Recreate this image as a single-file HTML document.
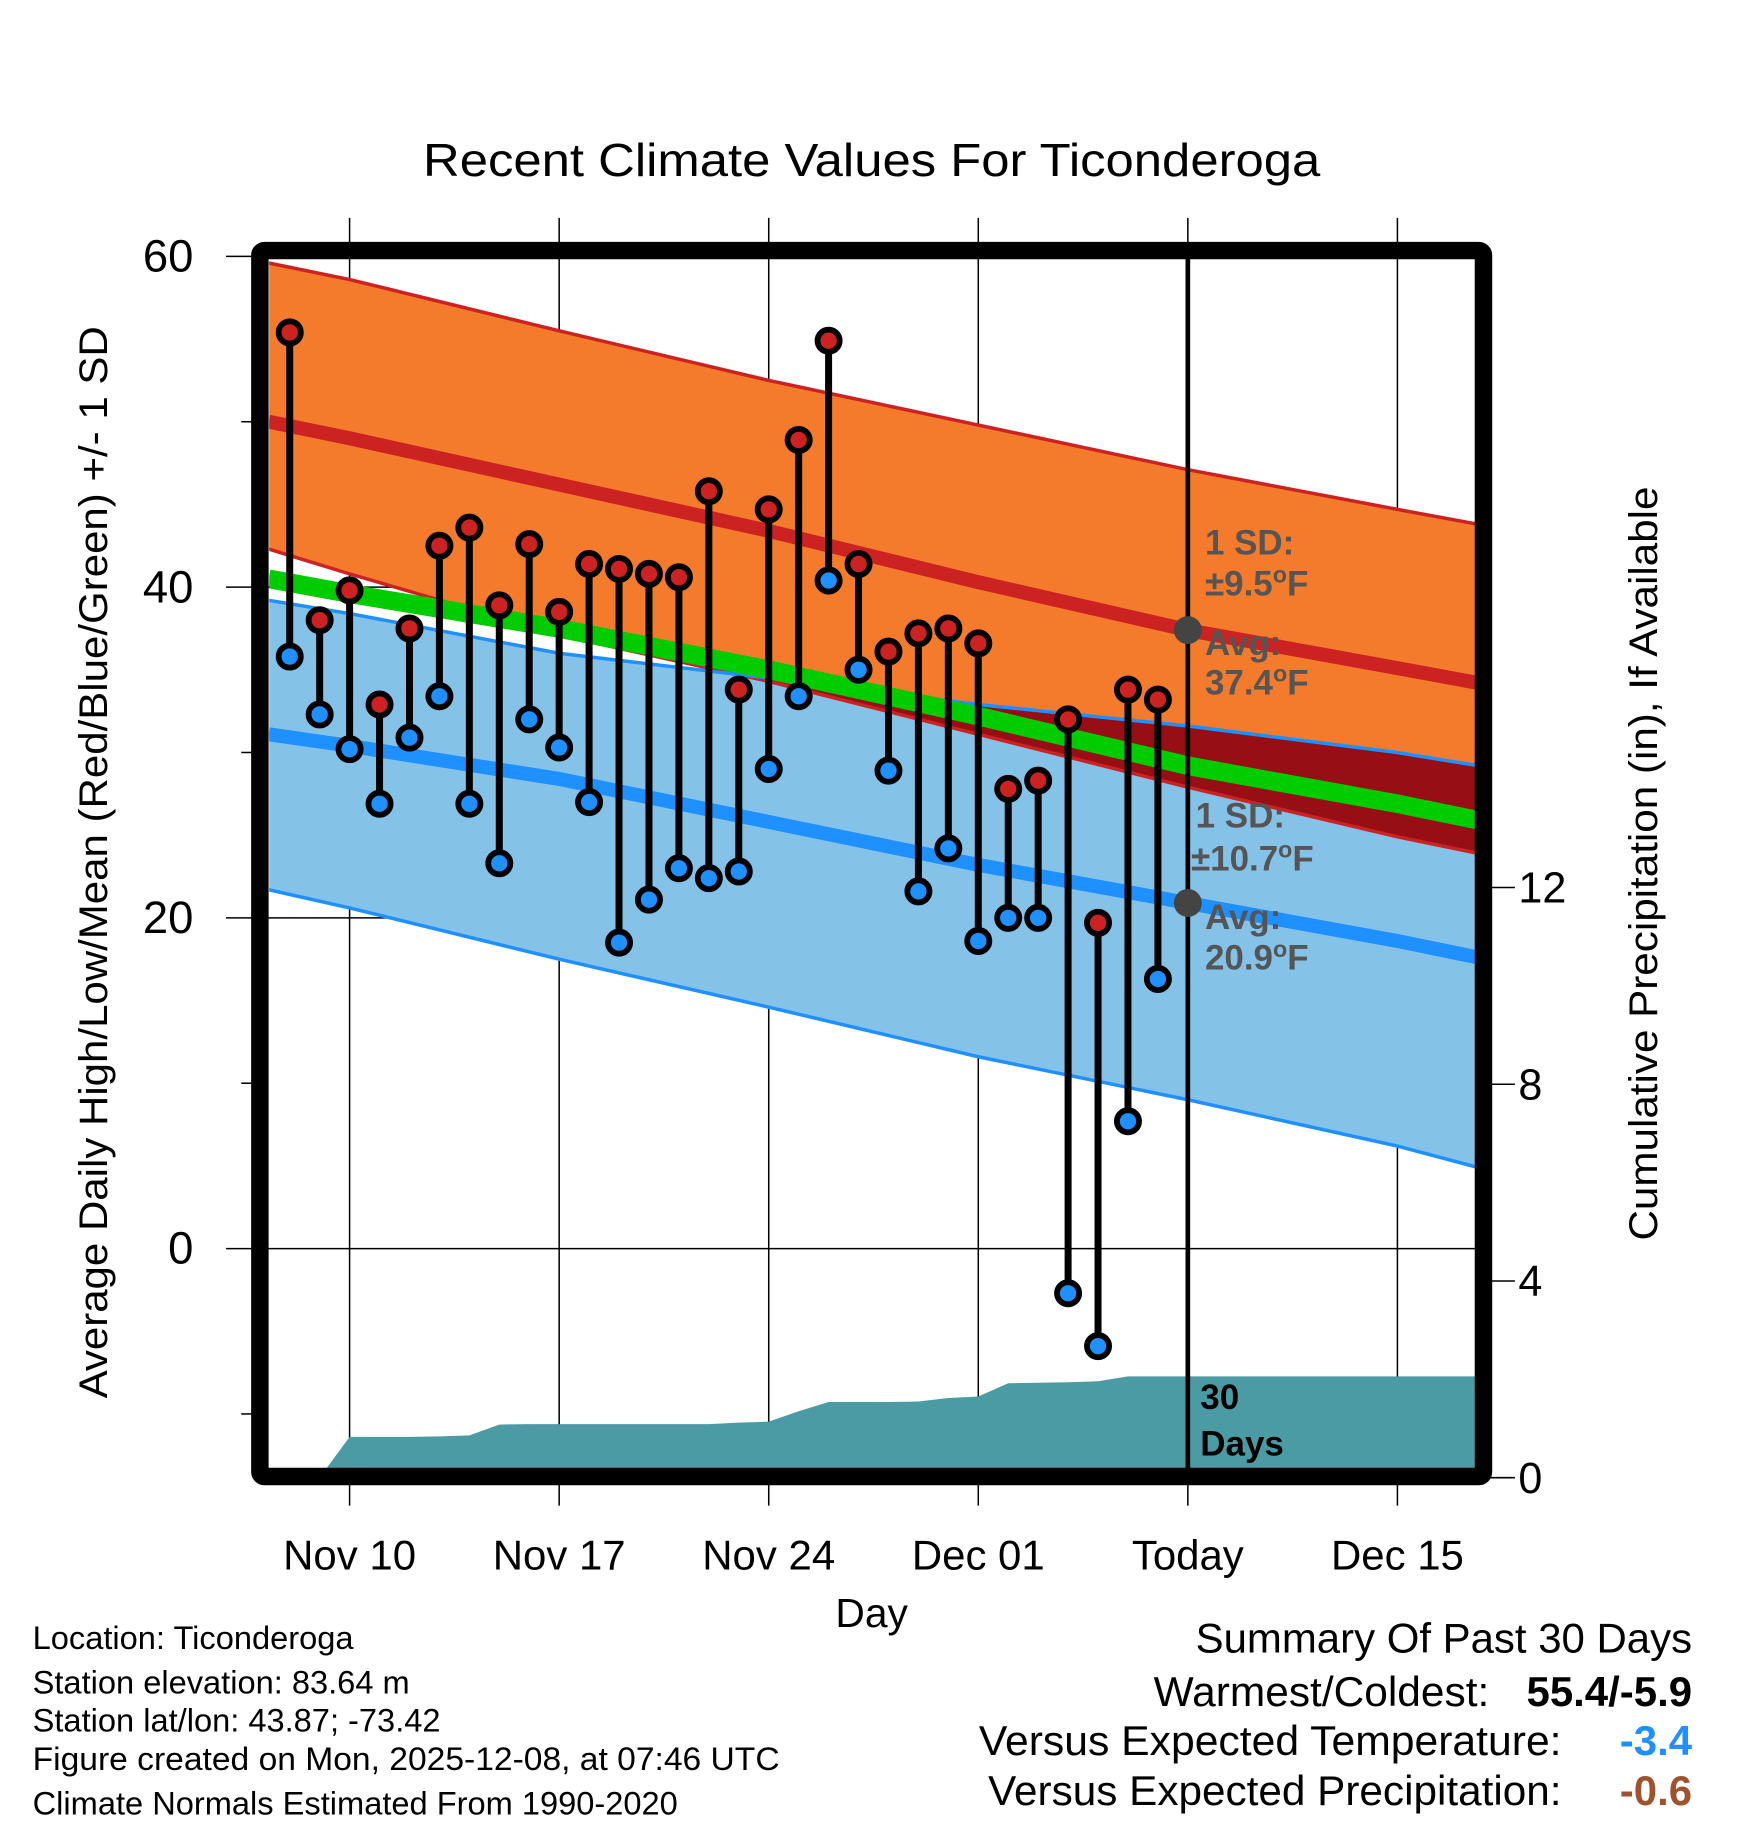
<!DOCTYPE html>
<html><head><meta charset="utf-8"><style>
html,body{margin:0;padding:0;background:#fff;}
svg{display:block;font-family:"Liberation Sans",Arial,sans-serif;}
</style></head><body>
<svg id="chart" width="1748" height="1828" viewBox="0 0 1500 1568.6" preserveAspectRatio="none" xmlns="http://www.w3.org/2000/svg">
<defs><clipPath id="pc"><rect x="231" y="224" width="1037" height="1036"/></clipPath></defs>
<rect x="0" y="0" width="1500" height="1568.6" fill="#fff"/>
<text x="748" y="151" font-size="40" text-anchor="middle" textLength="770" lengthAdjust="spacingAndGlyphs">Recent Climate Values For Ticonderoga</text>
<g id="grid"></g>
<g id="plot" clip-path="url(#pc)"></g>
<g id="marks"></g>
<rect x="223" y="215" width="1050" height="1052" rx="4" fill="none" stroke="#000" stroke-width="15"/>
<g id="axes"></g>
<text transform="translate(92,740) rotate(-90)" font-size="34" text-anchor="middle" textLength="920" lengthAdjust="spacingAndGlyphs">Average Daily High/Low/Mean (Red/Blue/Green) +/- 1 SD</text>
<text transform="translate(1422,741) rotate(-90)" font-size="34" text-anchor="middle" textLength="647" lengthAdjust="spacingAndGlyphs">Cumulative Precipitation (in), If Available</text>
<text x="748" y="1396" font-size="35" text-anchor="middle">Day</text>
<g font-size="28">
<text x="28" y="1415">Location: Ticonderoga</text>
<text x="28" y="1453">Station elevation: 83.64 m</text>
<text x="28" y="1486">Station lat/lon: 43.87; -73.42</text>
<text x="28" y="1519" textLength="641" lengthAdjust="spacingAndGlyphs">Figure created on Mon, 2025-12-08, at 07:46 UTC</text>
<text x="28" y="1557">Climate Normals Estimated From 1990-2020</text>
</g>
<g font-size="36" text-anchor="end">
<text x="1452" y="1418" textLength="426" lengthAdjust="spacingAndGlyphs">Summary Of Past 30 Days</text>
<text x="1278" y="1464" textLength="288" lengthAdjust="spacingAndGlyphs">Warmest/Coldest:</text>
<text x="1452" y="1464" font-weight="bold">55.4/-5.9</text>
<text x="1340" y="1506" textLength="500" lengthAdjust="spacingAndGlyphs">Versus Expected Temperature:</text>
<text x="1452" y="1506" font-weight="bold" fill="#1e90ff">-3.4</text>
<text x="1340" y="1549" textLength="492" lengthAdjust="spacingAndGlyphs">Versus Expected Precipitation:</text>
<text x="1452" y="1549" font-weight="bold" fill="#a0522d">-0.6</text>
</g>
<script>
// ---- data ----
const normDays = [-2.7, 0, 7, 14, 21, 28, 35, 37.7];
const highPlusSD = [59.6, 58.6, 55.5, 52.5, 49.8, 47.1, 44.7, 43.8];
const meanHigh = [50.0, 49.0, 46.2, 43.4, 40.3, 37.4, 35.1, 34.2];
const highMinusSD = [42.3, 40.8, 37.1, 34.3, 31.1, 27.9, 24.9, 23.9];
const meanAvg = [40.5, 39.6, 37.5, 35.0, 32.2, 29.2, 26.9, 25.9];
const lowPlusSD = [39.2, 38.4, 36.0, 34.5, 32.9, 31.6, 30.0, 29.2];
const meanLow = [31.1, 30.4, 28.4, 25.8, 23.2, 20.9, 18.6, 17.6];
const lowMinusSD = [21.7, 20.6, 17.5, 14.6, 11.6, 9.0, 6.2, 4.9];
const obsDays = [-2,-1,0,1,2,3,4,5,6,7,8,9,10,11,12,13,14,15,16,17,18,19,20,21,22,23,24,25,26,27];
const highs = [55.4,38.0,39.8,32.9,37.5,42.5,43.6,38.9,42.6,38.5,41.4,41.1,40.8,40.6,45.8,33.8,44.7,48.9,54.9,41.4,36.1,37.2,37.5,36.6,27.8,28.3,32.0,19.7,33.8,33.2];
const lows = [35.8,32.3,30.2,26.9,30.9,33.4,26.9,23.3,32.0,30.3,27.0,18.5,21.1,23.0,22.4,22.8,29.0,33.4,40.4,35.0,28.9,21.6,24.2,18.6,20.0,20.0,-2.7,-5.9,7.7,16.3];
const precip = [0,0,0.83,0.83,0.83,0.84,0.86,1.08,1.09,1.09,1.09,1.09,1.09,1.09,1.09,1.12,1.14,1.35,1.54,1.54,1.54,1.55,1.62,1.65,1.92,1.93,1.94,1.96,2.06,2.06];
const xTickDays = [0, 7, 14, 21, 28, 35];
const xTickLabels = ["Nov 10", "Nov 17", "Nov 24", "Dec 01", "Today", "Dec 15"];
const yTicks = [60, 40, 20, 0];
const yMinor = [50, 30, 10, -10];
const pTicks = [0, 4, 8, 12];
// ---- scales ----
const NS="http://www.w3.org/2000/svg";
const X = d => 300 + d*25.69;
const Y = t => 1071.4 - t*14.19;
const YP = p => 1268 - p*42.2;
const LEFT=231, RIGHT=1268, TODAY=28;
function mk(parent, tag, attrs){const e=document.createElementNS(NS,tag);for(const k in attrs)e.setAttribute(k,attrs[k]);parent.appendChild(e);return e;}
const grid=document.getElementById('grid'), plot=document.getElementById('plot'), marks=document.getElementById('marks'), axes=document.getElementById('axes');
function pts(arr){return normDays.map((d,i)=>X(d)+','+Y(arr[i]));}
function band(top,bot,fill,name){
  const p=pts(top).concat(pts(bot).reverse()).join(' ');
  const e=mk(plot,'polygon',{points:p,fill:fill});
  
  
}
band(highPlusSD, highMinusSD, '#f47a2c', 'high-sd-band');
band(lowPlusSD, lowMinusSD, '#84c2e8', 'low-sd-band');
const overlapTop = lowPlusSD.map((v,i)=>Math.max(v, highMinusSD[i]));
band(overlapTop, highMinusSD, '#970f15', 'overlap-band');
function line(arr,color,w,name){
  const e=mk(plot,'polyline',{points:pts(arr).join(' '),fill:'none',stroke:color,'stroke-width':w});
  
  
}
line(highPlusSD,'#cc2222',3,'high-plus-sd-line');
line(highMinusSD,'#cc2222',3,'high-minus-sd-line');
line(lowPlusSD,'#1e90ff',3,'low-plus-sd-line');
line(lowMinusSD,'#1e90ff',3,'low-minus-sd-line');
line(meanHigh,'#cc2222',12,'mean-high-line');
line(meanLow,'#1e90ff',12,'mean-low-line');
line(meanAvg,'#00cc00',16,'mean-avg-line');
// precip area
let pp=[X(-2.7)+','+YP(0)];
obsDays.forEach((d,i)=>pp.push(X(d)+','+YP(precip[i])));
pp.push(X(TODAY)+','+YP(precip[precip.length-1]));
pp.push(RIGHT+','+YP(precip[precip.length-1]));
pp.push(RIGHT+','+1270);pp.push(LEFT+','+1270);
const pa=mk(plot,'polygon',{points:pp.join(' '),fill:'#4a9ba4'});


// grid
xTickDays.forEach((d,i)=>{
  const g=mk(grid,'line',{x1:X(d),x2:X(d),y1:187,y2:1292,stroke:'#000','stroke-width':1.3});
  
  
  const t=mk(axes,'text',{x:X(d),y:1347,'font-size':36,'text-anchor':'middle'});
  t.textContent=xTickLabels[i];
  
  
});
yTicks.forEach(v=>{
  const g=mk(grid,'line',{x1:194,x2:RIGHT,y1:Y(v),y2:Y(v),stroke:'#000','stroke-width':1.3});
  
  
  const t=mk(axes,'text',{x:166,y:Y(v)+13,'font-size':39,'text-anchor':'end'});
  t.textContent=v;
  
  
});
yMinor.forEach(v=>{
  const g=mk(grid,'line',{x1:207,x2:220,y1:Y(v),y2:Y(v),stroke:'#000','stroke-width':1.3});
  
  
});
pTicks.forEach(v=>{
  const g=mk(axes,'line',{x1:1278,x2:1300,y1:YP(v),y2:YP(v),stroke:'#000','stroke-width':1.3});
  
  
  const t=mk(axes,'text',{x:1303,y:YP(v)+13,'font-size':37});
  t.textContent=v;
  
  
});
// today line
const tl=mk(marks,'line',{x1:X(TODAY),x2:X(TODAY),y1:215,y2:1262,stroke:'#000','stroke-width':4});


// stems & dots
obsDays.forEach((d,i)=>{
  const s=mk(marks,'line',{x1:X(d),x2:X(d),y1:Y(highs[i]),y2:Y(lows[i]),stroke:'#000','stroke-width':6});
  
  
  const h=mk(marks,'circle',{cx:X(d),cy:Y(highs[i]),r:9.5,fill:'#cc2222',stroke:'#000','stroke-width':5});
  
  
  const l=mk(marks,'circle',{cx:X(d),cy:Y(lows[i]),r:9.5,fill:'#1e90ff',stroke:'#000','stroke-width':5});
  
  
});
// annotations
const ti=normDays.indexOf(TODAY);
[meanHigh[ti], meanLow[ti]].forEach(v=>{
  const c=mk(marks,'circle',{cx:X(TODAY),cy:Y(v),r:12,fill:'#444'});
  
  
});
function ann(x,y,txt,deg,fill,name){
  const t=mk(marks,'text',{x:x,y:y,'font-size':30,'font-weight':'bold',fill:fill});
  t.appendChild(document.createTextNode(txt));
  if(deg){
    const s1=mk(t,'tspan',{dy:-11,'font-size':20});
    s1.appendChild(document.createTextNode('o'));
    const s2=mk(t,'tspan',{dy:11});
    s2.appendChild(document.createTextNode('F'));
  }
  
  
}
ann(1034,476,'1 SD:',false,'#555','high-sd-label');
ann(1034,511,'±9.5',true,'#555','high-sd-value');
ann(1034,562,'Avg:',false,'#555','high-avg-label');
ann(1034,596,'37.4',true,'#555','high-avg-value');
ann(1026,710,'1 SD:',false,'#555','low-sd-label');
ann(1022,747,'±10.7',true,'#555','low-sd-value');
ann(1034,797,'Avg:',false,'#555','low-avg-label');
ann(1034,832,'20.9',true,'#555','low-avg-value');
ann(1030,1209,'30',false,'#000','precip-days-label');
ann(1030,1249,'Days',false,'#000','precip-days-label-2');
</script>
</svg>
</body></html>
